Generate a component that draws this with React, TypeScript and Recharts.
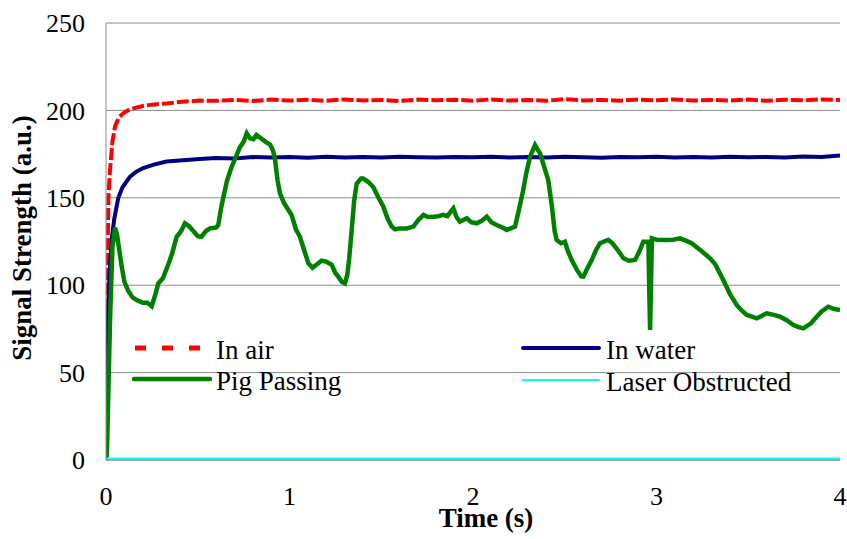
import React from 'react';
import { LineChart, Line, XAxis, YAxis, CartesianGrid, Legend } from 'recharts';

// ---- data ----
const xTicks = [0, 1, 2, 3, 4];
const yTicks = [0, 50, 100, 150, 200, 250];

const inAirT = [0, 0.004, 0.008, 0.013, 0.022, 0.035, 0.049, 0.07, 0.094, 0.12, 0.149, 0.2, 0.25, 0.33, 0.4, 0.51, 0.6, 0.7, 0.8, 0.9, 1.0, 1.1, 1.2, 1.3, 1.4, 1.5, 1.6, 1.7, 1.8, 1.9, 2.0, 2.1, 2.2, 2.3, 2.4, 2.5, 2.6, 2.7, 2.8, 2.9, 3.0, 3.1, 3.2, 3.3, 3.4, 3.5, 3.6, 3.7, 3.8, 3.9, 4.0];
const inAirV = [0, 40, 110, 150, 166, 182, 190.7, 196, 198.3, 200, 201.2, 202.5, 203.3, 204, 204.8, 205.6, 205.5, 206, 205.4, 206.2, 205.6, 206.1, 205.5, 206.3, 205.7, 206, 205.4, 206.2, 205.8, 206.1, 205.5, 206.3, 205.6, 206, 205.5, 206.4, 205.7, 206, 205.5, 206.2, 205.8, 206.3, 205.6, 206, 205.7, 206.2, 205.5, 206.1, 205.8, 206.3, 205.9];

const inWaterT = [0, 0.005, 0.011, 0.02, 0.031, 0.045, 0.067, 0.09, 0.13, 0.165, 0.203, 0.26, 0.33, 0.42, 0.51, 0.6, 0.7, 0.8, 0.9, 1.0, 1.1, 1.2, 1.3, 1.4, 1.5, 1.6, 1.7, 1.8, 1.9, 2.0, 2.1, 2.2, 2.3, 2.4, 2.5, 2.6, 2.7, 2.8, 2.9, 3.0, 3.1, 3.2, 3.3, 3.4, 3.5, 3.6, 3.7, 3.8, 3.9, 4.0];
const inWaterV = [0, 35, 84, 108, 126, 138, 150, 156, 162, 165, 167, 169, 170.8, 171.5, 172.2, 172.7, 172.5, 173.3, 173, 173.4, 172.9, 173.5, 173.1, 173.4, 173, 173.5, 173.2, 173, 173.4, 173.2, 173.5, 173, 173.3, 173.1, 173.5, 173.2, 172.9, 173.4, 173.2, 173.5, 173.1, 173.3, 173, 173.5, 173.2, 173.4, 173.1, 173.6, 173.4, 174.2];

const pigT = [0, 0.005, 0.022, 0.035, 0.049, 0.06, 0.085, 0.1, 0.12, 0.145, 0.167, 0.2, 0.225, 0.249, 0.27, 0.285, 0.31, 0.34, 0.36, 0.385, 0.41, 0.43, 0.45, 0.476, 0.5, 0.52, 0.545, 0.567, 0.6, 0.612, 0.625, 0.64, 0.66, 0.685, 0.71, 0.73, 0.75, 0.767, 0.785, 0.803, 0.82, 0.839, 0.87, 0.894, 0.91, 0.921, 0.935, 0.948, 0.97, 1.0, 1.012, 1.035, 1.057, 1.08, 1.103, 1.125, 1.15, 1.175, 1.2, 1.23, 1.25, 1.266, 1.285, 1.302, 1.315, 1.325, 1.339, 1.352, 1.366, 1.39, 1.402, 1.43, 1.457, 1.485, 1.511, 1.535, 1.557, 1.575, 1.602, 1.64, 1.675, 1.7, 1.73, 1.755, 1.784, 1.81, 1.838, 1.86, 1.893, 1.91, 1.929, 1.966, 1.99, 2.02, 2.05, 2.075, 2.1, 2.129, 2.16, 2.184, 2.205, 2.229, 2.25, 2.274, 2.29, 2.311, 2.338, 2.35, 2.365, 2.39, 2.41, 2.43, 2.445, 2.456, 2.48, 2.501, 2.515, 2.538, 2.565, 2.59, 2.601, 2.625, 2.647, 2.67, 2.692, 2.715, 2.737, 2.76, 2.79, 2.82, 2.85, 2.883, 2.905, 2.928, 2.956, 2.96, 2.965, 2.97, 2.975, 3.0, 3.055, 3.09, 3.128, 3.16, 3.191, 3.24, 3.292, 3.32, 3.364, 3.4, 3.437, 3.46, 3.492, 3.52, 3.546, 3.575, 3.6, 3.64, 3.673, 3.71, 3.746, 3.775, 3.8, 3.84, 3.873, 3.9, 3.936, 3.965, 4.0];
const pigV = [0, 4, 80, 122, 133, 129, 111, 102, 97, 93, 91.5, 90, 90, 88, 95, 101, 104, 112, 118, 127.7, 131, 135.4, 134, 131, 128, 127.7, 131, 132.5, 133, 134.4, 143, 150.6, 160, 167.8, 174, 179, 182, 186.9, 184, 183.5, 186, 184.5, 182, 180.5, 177, 172, 160, 152.6, 147, 142, 140, 132, 127.7, 120, 112.5, 110, 112, 114, 113.5, 111.6, 107, 104.9, 102, 101, 106, 115, 131.6, 148, 158, 161, 161, 159, 156, 150, 145, 138, 133.5, 132, 132.5, 132.5, 133.5, 137, 140.2, 139, 139.2, 139.5, 140.2, 139.5, 144, 139, 136.3, 138.3, 136, 135.4, 137, 139.2, 136, 134.4, 133, 131.6, 132.5, 133.5, 143, 154.5, 164, 173.5, 180.2, 178, 175.5, 167, 160.2, 145, 131, 125.9, 124, 124.9, 120, 114.4, 109, 105, 104.9, 110, 114.4, 120, 124, 125, 125.9, 124, 120, 115.4, 114, 114.4, 119, 124.9, 124.9, 100, 74.4, 100, 126.8, 126, 125.9, 126, 126.8, 125.5, 124, 120, 115.4, 112, 103, 95, 88.7, 86, 83, 82, 81, 82.5, 83.9, 83, 82, 80, 77.2, 76, 75.3, 78, 82, 85, 87.7, 86.5, 85.8];

const laserT = [0, 4];
const laserV = [0.9, 0.9];

const seriesNames = ['In air', 'In water', 'Pig Passing', 'Laser Obstructed'];

const zip = (ts: number[], vs: number[]) => ts.map((t, i) => ({ t, v: vs[i] }));
const inAirData = zip(inAirT, inAirV);
const inWaterData = zip(inWaterT, inWaterV);
const pigData = zip(pigT, pigV);
const laserData = zip(laserT, laserV);

// ---- styles ----
const FONT = '"Liberation Serif", "Times New Roman", Times, serif';
const GRID = '#8c8c8c';
const styles: Record<string, { color: string; width: number; dash?: string; legendDash?: string; lx: number; ly: number }> = {
  'In air': { color: '#ff0000', width: 4, dash: '12 3', legendDash: '11 16', lx: 135, ly: 18 },
  'In water': { color: '#000080', width: 4, lx: 523, ly: 18 },
  'Pig Passing': { color: '#008000', width: 4.5, lx: 134, ly: 49 },
  'Laser Obstructed': { color: '#00ffff', width: 2, lx: 523, ly: 50 },
};

const LegendContent = () => (
  <svg width={847} height={70} style={{ display: 'block' }}>
    {seriesNames.map((name) => {
      const s = styles[name];
      return (
        <g key={name}>
          <line x1={s.lx} x2={s.lx + 76} y1={s.ly} y2={s.ly} stroke={s.color} strokeWidth={s.width + (name === 'In air' ? 1 : 0)} strokeDasharray={s.legendDash} strokeLinecap={s.legendDash ? 'butt' : 'round'} />
          <text x={name === 'In air' || name === 'Pig Passing' ? 216 : 606} y={s.ly + 11} style={{ fontFamily: FONT, fontSize: 27 }} fill="#000">{name}</text>
        </g>
      );
    })}
  </svg>
);

export default function App() {
  return (
    <div style={{ position: 'absolute', left: 0, top: 0, background: '#fff', fontFamily: FONT }}>
      <LineChart width={847} height={539} margin={{ top: 23, right: 7, bottom: 0, left: 0 }} style={{ fontFamily: FONT }}>
        <CartesianGrid vertical={false} stroke={GRID} strokeWidth={1} />
        <XAxis
          type="number"
          dataKey="t"
          domain={[0, 4]}
          ticks={xTicks}
          allowDataOverflow
          height={79}
          axisLine={{ stroke: GRID }}
          tickLine={false}
          tickSize={0}
          tickMargin={27}
          tick={{ fill: '#000', fontSize: 26, fontFamily: FONT }}
          label={{
            content: () => (
              <text x={486} y={527} textAnchor="middle" style={{ fontFamily: FONT, fontSize: 27, fontWeight: 'bold' }} fill="#000">Time (s)</text>
            ),
          }}
        />
        <YAxis
          type="number"
          domain={[0, 250]}
          ticks={yTicks}
          width={106}
          axisLine={{ stroke: GRID }}
          tickLine={false}
          tickSize={0}
          tickMargin={21}
          tick={{ fill: '#000', fontSize: 26, fontFamily: FONT }}
          label={{
            content: () => (
              <text x={31} y={238} transform="rotate(-90 31 238)" textAnchor="middle" style={{ fontFamily: FONT, fontSize: 27, fontWeight: 'bold' }} fill="#000">Signal Strength (a.u.)</text>
            ),
          }}
        />
        <Legend
          layout="horizontal"
          verticalAlign="middle"
          align="center"
          wrapperStyle={{ position: 'absolute', top: 330, left: 0, width: 847, height: 70 }}
          content={LegendContent}
        />
        <Line data={inAirData} dataKey="v" name="In air" type="linear" stroke={styles['In air'].color} strokeWidth={4} strokeDasharray={styles['In air'].dash} dot={false} isAnimationActive={false} />
        <Line data={inWaterData} dataKey="v" name="In water" type="linear" stroke={styles['In water'].color} strokeWidth={4} dot={false} isAnimationActive={false} />
        <Line data={pigData} dataKey="v" name="Pig Passing" type="linear" stroke={styles['Pig Passing'].color} strokeWidth={4.5} dot={false} isAnimationActive={false} />
        <Line data={laserData} dataKey="v" name="Laser Obstructed" type="linear" stroke={styles['Laser Obstructed'].color} strokeWidth={2} dot={false} isAnimationActive={false} />
      </LineChart>
    </div>
  );
}
